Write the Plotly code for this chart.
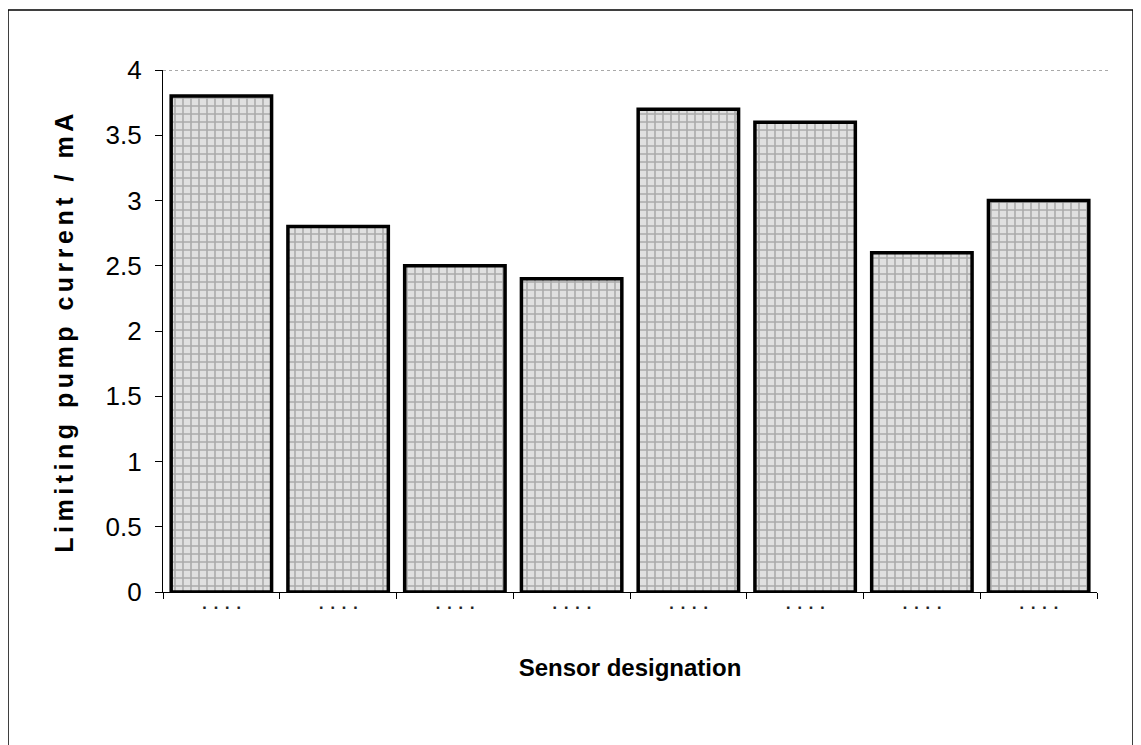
import plotly.graph_objects as go

# sensor data (x labels are illegible dots in the source scan)
sensors = ["S1", "S2", "S3", "S4", "S5", "S6", "S7", "S8"]
sensor_labels = ["■      ■      ■      ■"] * 8
pump_current = [3.8, 2.8, 2.5, 2.4, 3.7, 3.6, 2.6, 3.0]
y_ticks = [0, 0.5, 1, 1.5, 2, 2.5, 3, 3.5, 4]

W, H = 1141, 745
# page body adds 8px, so pixel targets are shifted by 8
L, T = 155, 62
R = W - 1089
B = H - 584
pw, ph = W - L - R, H - T - B

fig = go.Figure(go.Bar(
    x=sensors,
    y=pump_current,
    marker=dict(
        color="#dcdcdc",
        line=dict(color="black", width=3.5),
        pattern=dict(shape="+", fgcolor="#737373", bgcolor="#e0e0e0",
                     size=8, solidity=0.35),
    ),
    width=0.86,
    showlegend=False,
))

# dotted line at the top of the axis
fig.add_shape(type="line", xref="paper", yref="y",
              x0=0, x1=(1102 - L) / pw, y0=4, y1=4,
              line=dict(color="#555", width=1, dash="dot"))

# outer frame
fig.add_shape(type="rect", xref="paper", yref="paper",
              x0=(0 - L) / pw, x1=(1125 - L) / pw,
              y0=(T + ph - 760) / ph, y1=(T + ph - 2) / ph,
              line=dict(color="black", width=1.5))

fig.update_layout(
    width=W, height=H,
    margin=dict(l=L, r=R, t=T, b=B),
    plot_bgcolor="white",
    paper_bgcolor="white",
    font=dict(family="Liberation Sans, Arial", color="black", size=26),
)
fig.update_xaxes(
    tickvals=sensors, ticktext=sensor_labels,
    tickfont=dict(size=5, color="#222"), ticklabelstandoff=10,
    showline=True, linecolor="black", linewidth=1.2,
    ticks="outside", tickson="boundaries", ticklen=6, tickcolor="black",
    showgrid=False,
    title=dict(text="<b>Sensor designation</b>", font=dict(size=24), standoff=50),
)
fig.update_yaxes(
    range=[0, 4], tickvals=y_ticks, ticktext=[f"{v:g}" for v in y_ticks],
    ticklabelstandoff=8,
    showline=True, linecolor="black", linewidth=1.2,
    ticks="outside", ticklen=7, tickcolor="black",
    showgrid=False, zeroline=False,
    title=dict(text='<b><span style="letter-spacing:4.5px">Limiting pump current / mA</span></b>',
               font=dict(size=25), standoff=24),
)

fig.write_html("out.html")
